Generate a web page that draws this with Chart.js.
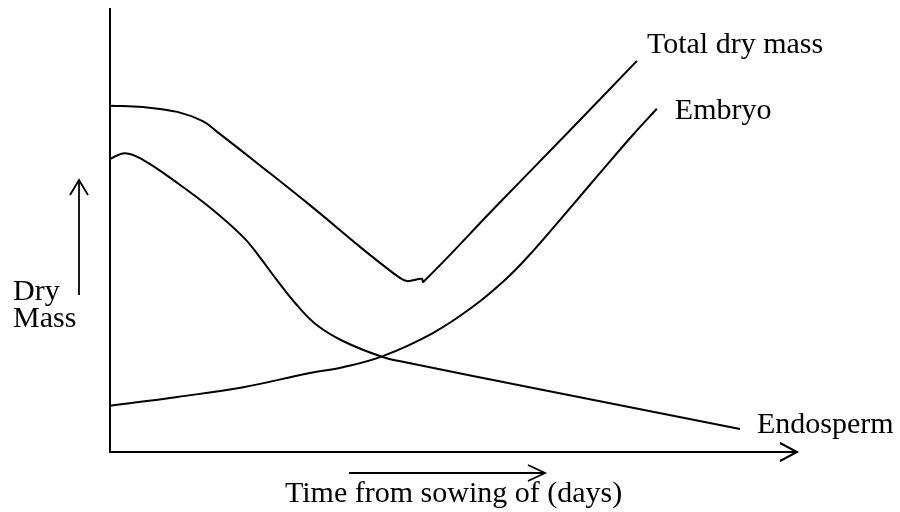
<!DOCTYPE html>
<html>
<head>
<meta charset="utf-8">
<script src="https://cdn.jsdelivr.net/npm/chart.js@4/dist/chart.umd.min.js"></script>
<style>
html,body{margin:0;padding:0;background:#fff;}
#wrap{width:900px;height:512px;}
</style>
</head>
<body>
<div id="wrap"><canvas id="c" width="900" height="512"></canvas></div>
<script>
// Time from sowing (arbitrary day units) and dry mass (arbitrary units)
const totalDays = [0, 4.8, 9.8, 13.5, 15.6, 21.8, 29.1, 36.4, 39.3, 42.2, 43.2, 44.1, 45.4, 45.6, 56.0, 66.3, 76.7];
const totalMass = [78.0, 77.7, 76.6, 74.5, 72.1, 64.6, 55.6, 46.2, 42.6, 39.2, 38.5, 38.7, 39.0, 38.3, 55.0, 71.4, 88.1];

const embryoDays = [0, 9.8, 19.4, 29.1, 33.9, 39.7, 47.0, 52.8, 57.8, 61.6, 66.5, 71.3, 76.1, 79.6];
const embryoMass = [10.4, 12.4, 14.6, 17.8, 19.1, 21.6, 26.8, 32.7, 39.2, 45.3, 54.1, 62.8, 71.4, 77.3];

const endoDays = [0, 2.2, 4.8, 9.8, 14.6, 19.4, 21.8, 24.3, 27.2, 30.1, 33.9, 39.7, 43.7, 61.6, 91.7];
const endoMass = [66.0, 67.3, 65.8, 60.6, 55.0, 48.4, 43.9, 38.7, 33.1, 28.6, 25.0, 21.4, 20.0, 14.4, 5.2];

const seriesNames = ["Total dry mass", "Embryo", "Endosperm"];
const yAxisLabel = ["Dry", "Mass"];
const xAxisLabel = "Time from sowing of (days)";

function pts(xs, ys){ return xs.map((x,i)=>({x:x, y:ys[i]})); }

const FONT = '30px "Liberation Serif", "Times New Roman", serif';

function arrow(ctx, x1, y1, x2, y2, len, half){
  ctx.beginPath();
  ctx.moveTo(x1, y1); ctx.lineTo(x2, y2); ctx.stroke();
  const a = Math.atan2(y2-y1, x2-x1);
  const bx = x2 - len*Math.cos(a), by = y2 - len*Math.sin(a);
  const px = -Math.sin(a)*half, py = Math.cos(a)*half;
  ctx.beginPath();
  ctx.moveTo(bx+px, by+py); ctx.lineTo(x2, y2); ctx.lineTo(bx-px, by-py);
  ctx.stroke();
}

const decor = {
  id: 'decor',
  afterDatasetsDraw(chart){
    const ctx = chart.ctx;
    const a = chart.chartArea;
    const xs = chart.scales.x, ys = chart.scales.y;
    ctx.save();
    ctx.strokeStyle = '#000';
    ctx.lineWidth = 2;
    ctx.lineCap = 'butt';
    // y axis
    ctx.beginPath(); ctx.moveTo(a.left, a.top); ctx.lineTo(a.left, a.bottom + 1); ctx.stroke();
    // x axis with arrow
    arrow(ctx, a.left, a.bottom, a.right, a.bottom, 17, 9);
    // up arrow next to y label
    ctx.lineWidth = 1.8;
    arrow(ctx, 79, 295, 79, 180, 15, 9);
    // arrow above x label
    arrow(ctx, 349, 473, 545, 473, 17, 8);

    ctx.fillStyle = '#000';
    ctx.font = FONT;
    ctx.textBaseline = 'alphabetic';
    ctx.textAlign = 'left';
    ctx.fillText(yAxisLabel[0], 13, 300);
    ctx.fillText(yAxisLabel[1], 13, 327);
    ctx.fillText(xAxisLabel, 285, 502);

    // series labels next to end of each curve
    const ends = [
      [totalDays, totalMass, 10, -8],
      [embryoDays, embryoMass, 18, 10],
      [endoDays, endoMass, 17, 4]
    ];
    ends.forEach((e, i) => {
      const n = e[0].length - 1;
      const px = xs.getPixelForValue(e[0][n]);
      const py = ys.getPixelForValue(e[1][n]);
      ctx.fillText(seriesNames[i], px + e[2], py + e[3]);
    });
    ctx.restore();
  }
};

const common = {
  borderColor: '#000',
  borderWidth: 2,
  pointRadius: 0,
  fill: false,
  tension: 0.4
};

new Chart(document.getElementById('c'), {
  type: 'line',
  data: {
    datasets: [
      Object.assign({label: seriesNames[0], data: pts(totalDays, totalMass)}, common),
      Object.assign({label: seriesNames[1], data: pts(embryoDays, embryoMass)}, common),
      Object.assign({label: seriesNames[2], data: pts(endoDays, endoMass)}, common)
    ]
  },
  options: {
    responsive: false,
    animation: false,
    devicePixelRatio: 1,
    layout: { padding: { left: 110, top: 8, right: 103, bottom: 60 } },
    plugins: { legend: { display: false }, tooltip: { enabled: false } },
    scales: {
      x: { type: 'linear', min: 0, max: 100, display: false },
      y: { type: 'linear', min: 0, max: 100, display: false }
    }
  },
  plugins: [decor]
});
</script>
</body>
</html>
